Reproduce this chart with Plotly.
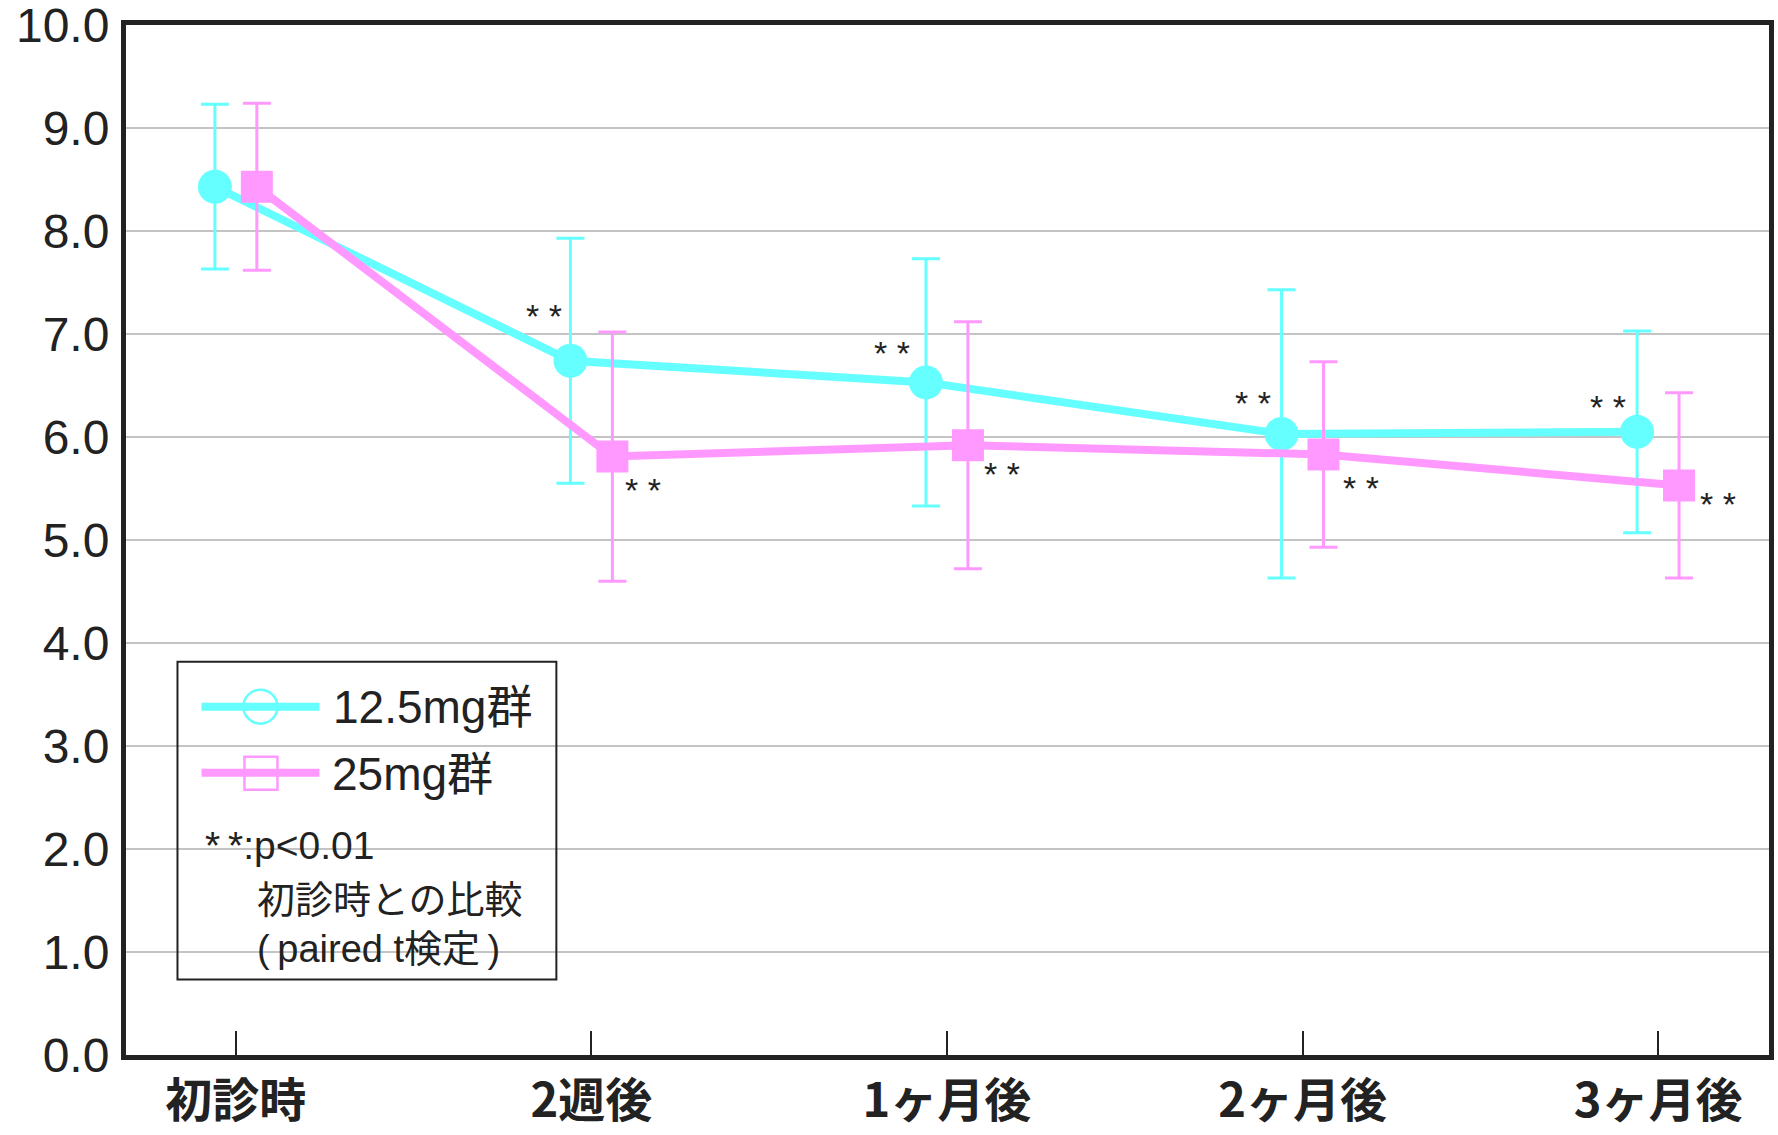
import plotly.graph_objects as go

# ---- data -------------------------------------------------------------
categories = ["初診時", "2週後", "1ヶ月後", "2ヶ月後", "3ヶ月後"]

mean_12_5mg = [8.43, 6.74, 6.53, 6.03, 6.05]
sd_12_5mg = [0.80, 1.19, 1.20, 1.40, 0.98]

mean_25mg = [8.43, 5.81, 5.92, 5.83, 5.53]
sd_25mg = [0.81, 1.21, 1.20, 0.90, 0.90]

# significance vs. first visit (paired t-test)
sig_12_5mg = ["", "* *", "* *", "* *", "* *"]
sig_25mg = ["", "* *", "* *", "* *", "* *"]

y_ticks = [0, 1, 2, 3, 4, 5, 6, 7, 8, 9, 10]

# ---- styling ----------------------------------------------------------
CYAN = "#66FFFF"
PINK = "#FF99FF"
INK = "#222222"
GRID = "#C4C4C4"
LATIN = "Liberation Sans, Arial, Noto Sans CJK JP"
CJK = "Noto Sans CJK JP"

W, H = 1778, 1135
M_L, M_R, M_T, M_B = 125.5, 9, 25, 79.5
PLOT_W = W - M_L - M_R
PLOT_H = H - M_T - M_B

DODGE = 0.059  # horizontal offset of the two groups around each category

# label offsets (px) for the significance marks
sig_dx_12_5 = [0, -26, -34, -29, -29]
sig_dy_12_5 = [0, 45, 29, 31, 25]
sig_dx_25 = [0, 31, 34, 38, 39]
sig_dy_25 = [0, -33, -29, -33, -19]

x_idx = list(range(len(categories)))
x_12_5 = [i - DODGE for i in x_idx]
x_25 = [i + DODGE for i in x_idx]

fig = go.Figure()

fig.add_trace(go.Scatter(
    x=x_12_5, y=mean_12_5mg, mode="lines+markers", name="12.5mg群",
    line=dict(color=CYAN, width=8),
    marker=dict(symbol="circle", size=34, color=CYAN, line=dict(width=0)),
    error_y=dict(type="data", array=sd_12_5mg, visible=True,
                 color=CYAN, thickness=3, width=14),
    showlegend=False,
))
fig.add_trace(go.Scatter(
    x=x_25, y=mean_25mg, mode="lines+markers", name="25mg群",
    line=dict(color=PINK, width=8),
    marker=dict(symbol="square", size=32, color=PINK, line=dict(width=0)),
    error_y=dict(type="data", array=sd_25mg, visible=True,
                 color=PINK, thickness=3, width=14),
    showlegend=False,
))

annotations = []
for i in x_idx:
    if sig_12_5mg[i]:
        annotations.append(dict(
            x=x_12_5[i], y=mean_12_5mg[i], xref="x", yref="y",
            text=sig_12_5mg[i], showarrow=False,
            xshift=sig_dx_12_5[i], yshift=sig_dy_12_5[i],
            font=dict(family=LATIN, size=34, color=INK)))
    if sig_25mg[i]:
        annotations.append(dict(
            x=x_25[i], y=mean_25mg[i], xref="x", yref="y",
            text=sig_25mg[i], showarrow=False,
            xshift=sig_dx_25[i], yshift=sig_dy_25[i],
            font=dict(family=LATIN, size=34, color=INK)))


# ---- hand-drawn legend box (pixel layout -> paper coords) --------------
def px(xpix):
    return (xpix - M_L) / PLOT_W


def py(ypix):
    return (M_T + PLOT_H - ypix) / PLOT_H


shapes = [
    dict(type="rect", xref="paper", yref="paper",
         x0=px(177), x1=px(556), y0=py(662), y1=py(980),
         line=dict(color=INK, width=2), fillcolor="rgba(0,0,0,0)", layer="above"),
    # 12.5mg row
    dict(type="line", xref="paper", yref="paper",
         x0=px(201), x1=px(319), y0=py(707), y1=py(707),
         line=dict(color=CYAN, width=8), layer="above"),
    dict(type="circle", xref="paper", yref="paper",
         x0=px(243), x1=px(277), y0=py(690), y1=py(724),
         line=dict(color=CYAN, width=2.5), fillcolor="rgba(0,0,0,0)", layer="above"),
    # 25mg row
    dict(type="line", xref="paper", yref="paper",
         x0=px(201), x1=px(319), y0=py(773), y1=py(773),
         line=dict(color=PINK, width=8), layer="above"),
    dict(type="rect", xref="paper", yref="paper",
         x0=px(244), x1=px(277), y0=py(757), y1=py(790),
         line=dict(color=PINK, width=2.5), fillcolor="rgba(0,0,0,0)", layer="above"),
]

legend_texts = [
    ("12.5mg群", 331, 707, 46),
    ("25mg群", 330, 774, 46),
    ("*\u2009*:p<0.01", 203, 846, 39),
    ("初診時との比較<br>(\u2009paired t検定\u2009)", 255, 925, 38),
]
for text, xp, yp, size in legend_texts:
    annotations.append(dict(
        x=px(xp), y=py(yp), xref="paper", yref="paper",
        text=text, showarrow=False, xanchor="left", yanchor="middle", align="left",
        font=dict(family=LATIN, size=size, color=INK)))

fig.update_layout(
    width=W, height=H,
    margin=dict(l=M_L, r=M_R, t=M_T, b=M_B, pad=0, autoexpand=False),
    paper_bgcolor="white", plot_bgcolor="white",
    shapes=shapes, annotations=annotations,
    showlegend=False,
)

fig.update_xaxes(
    range=[-0.309, 4.312], automargin=False,
    tickmode="array", tickvals=x_idx, ticktext=categories,
    ticks="inside", ticklen=24, tickwidth=2, tickcolor=INK,
    tickfont=dict(family=CJK, size=47, color=INK, weight=700),
    ticklabelstandoff=1, ticklabeloverflow="allow",
    showgrid=False, zeroline=False,
    showline=True, linecolor=INK, linewidth=5, mirror=True,
)
fig.update_yaxes(
    range=[0, 10], automargin=False,
    tickmode="array", tickvals=y_ticks,
    ticktext=[f"{v:.1f}" for v in y_ticks],
    ticks="", ticklabelstandoff=2, ticklabeloverflow="allow",
    tickfont=dict(family=LATIN, size=48, color=INK),
    showgrid=True, gridcolor=GRID, gridwidth=2,
    zeroline=False,
    showline=True, linecolor=INK, linewidth=5, mirror=True,
)

fig.write_html("out.html")
